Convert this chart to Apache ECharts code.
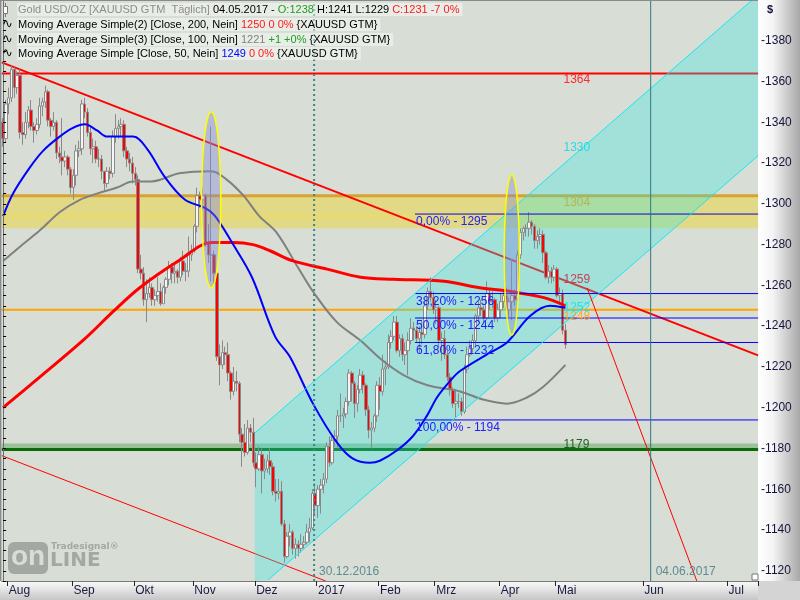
<!DOCTYPE html>
<html>
<head>
<meta charset="utf-8">
<title>Gold USD/OZ</title>
<script src="https://cdn.jsdelivr.net/npm/echarts@6.0.0/dist/echarts.min.js"></script>
<style>
  html, body { margin: 0; padding: 0; background: #fff; }
  #main { width: 800px; height: 600px; }
</style>
</head>
<body>
<div id="main"></div>
<script>
// daily candles, one array per month: [day, open, close, low, high]
const jul16 = [[28,1340,1332,1328,1342],[29,1332,1349,1330,1351]];
const aug16 = [
  [1,1349,1352,1344,1357],[2,1352,1366,1350,1368],[3,1366,1357,1352,1367],[4,1357,1363,1354,1365],[5,1363,1335,1332,1366],
  [8,1335,1334,1329,1340],[9,1334,1340,1332,1345],[10,1340,1346,1337,1348],[11,1346,1338,1336,1351],[12,1338,1336,1330,1340],
  [15,1336,1339,1334,1342],[16,1339,1348,1337,1352],[17,1348,1350,1343,1352],[18,1350,1355,1347,1358],[19,1355,1341,1338,1356],
  [22,1341,1338,1333,1342],[23,1338,1340,1336,1345],[24,1340,1325,1322,1341],[25,1325,1323,1320,1328],[26,1323,1321,1314,1342],
  [29,1321,1323,1318,1326],[30,1323,1317,1314,1324],[31,1317,1308,1305,1318]
];
const sep16 = [
  [1,1308,1314,1302,1317],[2,1314,1326,1309,1329],[5,1326,1327,1323,1331],[6,1327,1349,1324,1351],[7,1349,1345,1342,1352],
  [8,1345,1335,1333,1347],[9,1335,1327,1324,1338],[12,1327,1328,1320,1332],[13,1328,1322,1320,1331],[14,1322,1322,1318,1327],
  [15,1322,1316,1312,1324],[16,1316,1310,1306,1316],[19,1310,1316,1308,1318],[20,1316,1315,1312,1318],[21,1315,1333,1313,1336],
  [22,1333,1337,1330,1344],[23,1337,1338,1332,1341],[26,1338,1339,1333,1342],[27,1339,1326,1323,1341],[28,1326,1322,1318,1328],
  [29,1322,1320,1316,1325],[30,1320,1315,1310,1323]
];
const oct16 = [
  [3,1315,1312,1309,1318],[4,1312,1268,1266,1314],[5,1268,1266,1263,1275],[6,1266,1253,1250,1269],[7,1253,1256,1242,1263],
  [10,1256,1259,1254,1264],[11,1259,1253,1250,1261],[12,1253,1255,1250,1258],[13,1255,1257,1252,1264],[14,1257,1251,1250,1261],
  [17,1251,1259,1251,1260],[18,1259,1263,1256,1264],[19,1263,1269,1260,1272],[20,1269,1266,1261,1271],[21,1266,1267,1261,1270],
  [24,1267,1264,1261,1268],[25,1264,1272,1262,1274],[26,1272,1267,1265,1277],[27,1267,1267,1262,1271],[28,1267,1275,1264,1284],
  [31,1275,1277,1272,1280]
];
const nov16 = [
  [1,1277,1289,1276,1290],[2,1289,1304,1286,1308],[3,1304,1302,1298,1306],[4,1302,1304,1297,1308],[7,1304,1281,1279,1305],
  [8,1281,1275,1271,1290],[9,1275,1275,1262,1338],[10,1275,1266,1260,1277],[11,1266,1225,1223,1267],[14,1225,1221,1211,1231],
  [15,1221,1227,1219,1233],[16,1227,1226,1221,1230],[17,1226,1217,1213,1232],[18,1217,1208,1204,1218],[21,1208,1213,1206,1220],
  [22,1213,1212,1208,1218],[23,1212,1187,1183,1213],[24,1187,1183,1171,1190],[25,1183,1178,1176,1192],[28,1178,1190,1177,1194],
  [29,1190,1188,1183,1192],[30,1188,1173,1171,1195]
];
const dec16 = [
  [1,1173,1170,1161,1178],[2,1170,1177,1169,1181],[5,1177,1169,1158,1180],[6,1169,1170,1165,1175],[7,1170,1174,1168,1177],
  [8,1174,1171,1167,1180],[9,1171,1159,1157,1173],[12,1159,1158,1154,1165],[13,1158,1159,1155,1165],[14,1159,1143,1142,1164],
  [15,1143,1127,1124,1145],[16,1127,1137,1126,1139],[19,1137,1139,1132,1143],[20,1139,1131,1128,1140],[21,1131,1133,1126,1136],
  [22,1133,1131,1127,1135],[23,1131,1133,1129,1138],[26,1133,1134,1131,1137],[27,1134,1139,1133,1143],[28,1139,1141,1134,1146],
  [29,1141,1158,1140,1160],[30,1158,1152,1147,1163]
];
const jan17 = [
  [2,1152,1160,1146,1162],[3,1160,1162,1148,1165],[4,1162,1165,1158,1168],[5,1165,1181,1163,1183],[6,1181,1173,1171,1186],
  [9,1173,1184,1172,1186],[10,1184,1186,1181,1189],[11,1186,1196,1180,1199],[12,1196,1196,1193,1207],[13,1196,1197,1190,1200],
  [16,1197,1203,1195,1205],[17,1203,1217,1201,1219],[18,1217,1212,1203,1218],[19,1212,1202,1195,1213],[20,1202,1209,1198,1211],
  [23,1209,1216,1207,1219],[24,1216,1211,1207,1218],[25,1211,1199,1196,1212],[26,1199,1189,1185,1201],[27,1189,1190,1180,1193],
  [30,1190,1196,1188,1197],[31,1196,1211,1193,1213]
];
const feb17 = [
  [1,1211,1208,1199,1215],[2,1208,1219,1206,1226],[3,1219,1220,1211,1223],[6,1220,1232,1219,1236],[7,1232,1235,1229,1238],
  [8,1235,1242,1233,1245],[9,1242,1228,1227,1245],[10,1228,1234,1225,1236],[13,1234,1226,1223,1236],[14,1226,1228,1221,1232],
  [15,1228,1233,1216,1237],[16,1233,1239,1231,1244],[17,1239,1238,1233,1242],[20,1238,1234,1232,1240],[21,1234,1237,1227,1240],
  [22,1237,1236,1231,1243],[23,1236,1250,1234,1252],[24,1250,1257,1248,1259],[27,1257,1254,1252,1264],[28,1254,1248,1246,1257]
];
const mar17 = [
  [1,1248,1249,1241,1253],[2,1249,1233,1230,1250],[3,1233,1234,1223,1237],[6,1234,1226,1224,1238],[7,1226,1215,1213,1228],
  [8,1215,1209,1206,1217],[9,1209,1202,1200,1210],[10,1202,1203,1195,1209],[13,1203,1203,1200,1207],[14,1203,1198,1196,1205],
  [15,1198,1219,1197,1221],[16,1219,1226,1217,1230],[17,1226,1229,1225,1233],[20,1229,1233,1227,1236],[21,1233,1245,1230,1246],
  [22,1245,1249,1242,1252],[23,1249,1248,1245,1253],[24,1248,1244,1241,1250],[27,1244,1256,1243,1262],[28,1256,1252,1248,1258],
  [29,1252,1253,1249,1257],[30,1253,1244,1242,1254],[31,1244,1248,1242,1251]
];
const apr17 = [
  [3,1248,1252,1244,1256],[4,1252,1255,1249,1258],[5,1255,1248,1245,1259],[6,1248,1252,1244,1254],[7,1252,1255,1243,1273],
  [10,1255,1253,1250,1258],[11,1253,1275,1252,1277],[12,1275,1286,1273,1288],[13,1286,1288,1282,1289],[14,1288,1288,1284,1290],
  [17,1288,1291,1284,1296],[18,1291,1289,1285,1292],[19,1289,1282,1278,1290],[20,1282,1284,1278,1287],[21,1284,1285,1280,1288],
  [24,1285,1276,1271,1287],[25,1276,1264,1263,1277],[26,1264,1267,1261,1270],[27,1267,1264,1261,1269],[28,1264,1268,1262,1270]
];
const may17 = [[1,1268,1255,1254,1269],[2,1255,1256,1251,1259],[3,1256,1238,1236,1258],[4,1238,1231,1229,1241]];

// moving averages: [bar position, value]
const sma200 = [[0,1200],[13,1215],[28.4,1233],[39,1247],[48.7,1259],[62.3,1272],[74.3,1281],[81.7,1281],[88.9,1280],[94.9,1277],
  [103.1,1272],[115.2,1268],[127.1,1264],[138.8,1263],[156.9,1262],[169,1259],[180.6,1257],[192.3,1254],[200,1250]];
const sma100 = [[0,1272],[6,1279],[13.1,1287],[20.2,1296],[27.3,1302],[33.4,1305],[40.5,1308],[46.2,1311],[52.7,1311],[62.7,1315],
  [74.1,1316],[79.4,1312],[85.5,1304],[91.1,1294],[97.2,1286],[105.2,1268],[110.2,1257],[118.7,1242],[127.1,1233],[134.2,1224],
  [142.4,1216],[150.9,1211],[162.5,1208],[170.7,1204],[179.2,1202],[186.3,1205],[191.9,1210],[200,1221]];
const sma50 = [[0,1294],[3.5,1305],[9.6,1318],[14.2,1326],[19.2,1332],[24.5,1337],[29.1,1339],[33.4,1336],[37,1333],[46.2,1333],
  [51.2,1327],[57.6,1313],[64.7,1302],[71.8,1298],[75.4,1294],[81.4,1281],[88.5,1264],[96.7,1235],[102,1225],[110.2,1202],
  [118.7,1183],[124.4,1175],[130.5,1173],[134,1174],[140,1179],[145.7,1186],[150.7,1196],[154.3,1205],[158.9,1213],[162.5,1218],
  [173.1,1227],[179.2,1232],[187.4,1245],[194.5,1250],[200,1249]];

// horizontal levels
const resistance = 1364;
const yellowBand = [1288, 1304];
const yellowMid = 1294;
const orangeLevel = 1248;
const greenBand = [1180, 1182.5];
const supportLevel = 1179.5;

// fibonacci retracement
const fibStart = 146.5;
const fibPct = ['0,00%', '38,20%', '50,00%', '61,80%', '100,00%'];
const fibLevels = [1295, 1256, 1244, 1232, 1194];

// drawn lines: [[bar, price], [bar, price]]
const trendMain = [[-0.5, 1369.4], [268.5, 1225.7]];
const trendLow = [[-0.5, 1176.5], [114.7, 1115]];
const trendSteep = [[207.7, 1258.8], [246.7, 1115]];
const channelUp = [[89.5, 1187.6], [266.4, 1400]];
const channelDown = [[94.2, 1115.5], [268.5, 1323.6]];

// ellipses: [bar, price, half width in bars, half height in $]
const ellipses = [[74, 1302, 3.4, 43.2], [180.9, 1275, 2.7, 39.3]];

// vertical markers
const markerBars = [110.6, 230.3];
const markerLabels = ['30.12.2016', '04.06.2017'];

// price tags near the last bar: text and price at top of text
const tagTexts = ['1364', '1330', '1304', '1259', '1252', '1248', '1179'];
const tagPrices = [1363.8, 1330.4, 1303.5, 1265.7, 1252, 1247.6, 1184.8];
const tagBar = 199.3;

const monthNames = ['Jan','Feb','Mrz','Apr','Mai','Jun','Jul','Aug','Sep','Okt','Nov','Dez'];

// ---- build categories ----
const months = [['2016-07',jul16],['2016-08',aug16],['2016-09',sep16],['2016-10',oct16],['2016-11',nov16],['2016-12',dec16],
  ['2017-01',jan17],['2017-02',feb17],['2017-03',mar17],['2017-04',apr17],['2017-05',may17]];
const dates = [];
const ohlc = [];
months.forEach(([ym, rows]) => {
  rows.forEach(r => {
    dates.push(ym + '-' + String(r[0]).padStart(2, '0'));
    ohlc.push([r[1], r[2], r[3], r[4]]);
  });
});
// future part of the time scale uses calendar days
let d = new Date(Date.UTC(2017, 4, 5));
while (d.getTime() <= Date.UTC(2017, 6, 11)) {
  dates.push(d.toISOString().slice(0, 10));
  d.setUTCDate(d.getUTCDate() + 1);
}
const N = dates.length;
const monthStart = dates.map((s, i) => i > 0 && s.slice(5, 7) !== dates[i - 1].slice(5, 7));

const yMin = 1115, yMax = 1400;
const xMin = -0.5, xMax = N - 0.5;

const channelPoly = [[channelUp[0][0], yMin], channelUp[0], channelUp[1], [xMax, yMax], [xMax, channelDown[1][1]], channelDown[0]];

const FONT = '11px "Liberation Sans", Arial, sans-serif';

function seg(points, color, width, z, type) {
  return {
    type: 'line', xAxisIndex: 1, yAxisIndex: 0, data: points, symbol: 'none', silent: true, z: z,
    lineStyle: { color: color, width: width, type: type || 'solid' }
  };
}
function hline(v, color, width, z) {
  return seg([[xMin, v], [xMax, v]], color, width, z);
}

const series = [];

// bands
const bands = [yellowBand, greenBand];
const bandColors = ['rgba(240,210,40,0.45)', 'rgba(40,140,40,0.35)'];
series.push({
  type: 'custom', xAxisIndex: 1, yAxisIndex: 0, z: 1, silent: true,
  data: bands.map((b, i) => [i, b[0]]),
  renderItem: (params, api) => {
    const b = bands[params.dataIndex];
    const p1 = api.coord([xMin, b[1]]);
    const p2 = api.coord([xMax, b[0]]);
    return { type: 'rect', shape: { x: p1[0], y: p1[1], width: p2[0] - p1[0], height: p2[1] - p1[1] },
      style: { fill: bandColors[params.dataIndex] } };
  }
});
series.push(hline(resistance, '#ff0000', 2, 1));
series.push(hline(yellowBand[1], '#d6a330', 3, 1));
series.push(hline(yellowMid, '#f2dc50', 1.5, 1));
series.push(hline(orangeLevel, '#ffa500', 2, 1));
series.push(hline(supportLevel, '#0b6b0b', 3, 1));
series.push(seg(trendMain, '#ff0000', 2, 1));
series.push(seg(trendLow, '#ff0000', 1, 1));

// channel fill
series.push({
  type: 'custom', xAxisIndex: 1, yAxisIndex: 0, z: 2, silent: true,
  data: [[channelUp[0][0], channelUp[0][1]]],
  renderItem: (params, api) => ({
    type: 'polygon', shape: { points: channelPoly.map(p => api.coord(p)) },
    style: { fill: 'rgba(32,232,232,0.3)' }
  })
});

// candles
series.push({
  type: 'candlestick', xAxisIndex: 0, yAxisIndex: 0, z: 3, data: ohlc, barWidth: 3,
  itemStyle: { color: '#f6f6f6', color0: '#ff0000', borderColor: '#8a8a8a', borderColor0: '#8a8a8a', borderWidth: 1 }
});

// moving averages
series.push({ type: 'line', xAxisIndex: 1, yAxisIndex: 0, z: 4, data: sma100, smooth: 0.35, symbol: 'none', silent: true,
  lineStyle: { color: '#808080', width: 2 } });
series.push({ type: 'line', xAxisIndex: 1, yAxisIndex: 0, z: 4, data: sma200, smooth: 0.35, symbol: 'none', silent: true,
  lineStyle: { color: '#ff0000', width: 3 } });
series.push({ type: 'line', xAxisIndex: 1, yAxisIndex: 0, z: 4, data: sma50, smooth: 0.35, symbol: 'none', silent: true,
  lineStyle: { color: '#0000ff', width: 2 } });

// fib lines
fibLevels.forEach(v => series.push(seg([[fibStart, v], [xMax, v]], '#0000ff', 1, 4)));
// channel edges, steep line
series.push(seg(channelUp, '#18e6f2', 1, 4));
series.push(seg(channelDown, '#18e6f2', 1, 4));
series.push(seg(trendSteep, '#ff0000', 1, 4));
// vertical markers
series.push(seg([[markerBars[0], yMin], [markerBars[0], yMax]], '#3c8888', 2, 4, [2, 3]));
series.push(seg([[markerBars[1], yMin], [markerBars[1], yMax]], '#2f7a80', 1, 4));

// ellipses
series.push({
  type: 'custom', xAxisIndex: 1, yAxisIndex: 0, z: 5, silent: true,
  data: ellipses.map(e => [e[0], e[1]]),
  renderItem: (params, api) => {
    const e = ellipses[params.dataIndex];
    const c = api.coord([e[0], e[1]]);
    const rx = api.size([e[2], 0])[0];
    const ry = api.size([0, e[3]])[1];
    const pts = [];
    for (let k = 0; k < 64; k++) {
      const a = k / 64 * Math.PI * 2;
      pts.push([c[0] + rx * Math.cos(a), c[1] + ry * Math.sin(a)]);
    }
    return { type: 'polygon', shape: { points: pts },
      style: { fill: 'rgba(130,135,215,0.4)', stroke: '#ffff00', lineWidth: 1.5 } };
  }
});

// text labels drawn at data positions
const tagColors = ['#ff2a2a', '#22dde8', '#b8b454', '#c8405a', '#22e4e4', '#ffa62a', '#1f5f1f'];
const labelItems = [];
fibLevels.forEach((v, i) => labelItems.push({ at: [fibStart, v], dx: 1, dy: 2, text: fibPct[i] + ' - ' + v, color: '#2020ff' }));
tagTexts.forEach((t, i) => labelItems.push({ at: [tagBar, tagPrices[i]], dx: 0, dy: 0, text: t, color: tagColors[i] }));
markerBars.forEach((b, i) => labelItems.push({ at: [b, yMin], dx: 5, dy: -15, text: markerLabels[i], color: '#5f8a94' }));
series.push({
  type: 'custom', xAxisIndex: 1, yAxisIndex: 0, z: 6, silent: true,
  data: labelItems.map(l => l.at),
  renderItem: (params, api) => {
    const l = labelItems[params.dataIndex];
    const p = api.coord(l.at);
    return { type: 'text', x: p[0] + l.dx, y: p[1] + l.dy,
      style: { text: l.text, fill: l.color, font: '12px "Liberation Sans", Arial, sans-serif' } };
  }
});

// ---- header legend ----
const lastBar = ohlc[ohlc.length - 1];
const prevClose = ohlc[ohlc.length - 2][1];
const lastDate = dates[ohlc.length - 1];
const dateTxt = lastDate.slice(8, 10) + '.' + lastDate.slice(5, 7) + '.' + lastDate.slice(0, 4);
const chg = lastBar[1] - prevClose;
const pct = Math.trunc(chg / prevClose * 100);
const rs = c => ({ fill: c, font: FONT });
const rich = { g: rs('#8c8c8c'), k: rs('#000000'), gr: rs('#1e9e1e'), r: rs('#ff1a1a'), gy: rs('#808080'), b: rs('#0000ff') };
const ma200Last = sma200[sma200.length - 1][1];
const ma100Last = sma100[sma100.length - 1][1];
const ma50Last = sma50[sma50.length - 1][1];
const headerRows = [
  '{g|Gold USD/OZ [XAUUSD GTM  T\u00e4glich] }{k|' + dateTxt + ' - }{gr|O:' + lastBar[0] + '}{k| H:' + lastBar[3] +
    ' L:' + lastBar[2] + ' }{r|C:' + lastBar[1] + ' ' + chg + ' ' + pct + '%}',
  '{k|Moving Average Simple(2) [Close, 200, Nein] }{r|' + ma200Last + ' 0 0%} {XAUUSD GTM}',
  '{k|Moving Average Simple(3) [Close, 100, Nein] }{gy|' + ma100Last + '}{gr| +1 +0%} {XAUUSD GTM}',
  '{k|Moving Average Simple [Close, 50, Nein] }{b|' + ma50Last + '}{r| 0 0%} {XAUUSD GTM}'
];
const rowTops = [3, 18, 33, 47];

const graphics = [
  { type: 'rect', shape: { x: 758, y: 0, width: 42, height: 581 },
    style: { fill: new echarts.graphic.LinearGradient(0, 0, 1, 0, [
      { offset: 0, color: '#ffffff' }, { offset: 0.35, color: '#f4f4f4' }, { offset: 1, color: '#a8a8a8' }]) } },
  { type: 'rect', shape: { x: 0, y: 581, width: 758, height: 19 },
    style: { fill: new echarts.graphic.LinearGradient(0, 0, 0, 1, [
      { offset: 0, color: '#fbfbfb' }, { offset: 1, color: '#c6c6c6' }]) } },
  { type: 'rect', shape: { x: 758, y: 581, width: 42, height: 19 }, style: { fill: '#d4d4d4' } },
  { type: 'line', shape: { x1: 0.5, y1: 0, x2: 0.5, y2: 581 }, style: { stroke: '#8a8a8a', lineWidth: 2 }, z: 20 },
  { type: 'line', shape: { x1: 0, y1: 0.5, x2: 758, y2: 0.5 }, style: { stroke: '#8a8a8a', lineWidth: 1 }, z: 20 },
  { type: 'rect', shape: { x: 752, y: 574, width: 6, height: 6 }, style: { fill: '#ffffff', stroke: '#777', lineWidth: 1 }, z: 20 },
  { type: 'text', x: 767, y: 4, style: { text: '$', fill: '#14143c', font: 'bold 11px "Liberation Sans", Arial, sans-serif' }, z: 20 },
  // watermark
  { type: 'rect', shape: { x: 8, y: 542, width: 40, height: 32, r: 6 }, style: { fill: '#a3a9a2' }, z: 5 },
  { type: 'text', x: 11, y: 543, style: { text: 'on', fill: '#d8ded5', font: 'bold 28px "Liberation Sans", Arial, sans-serif' }, z: 5 },
  { type: 'text', x: 50, y: 551, style: { text: 'LINE', fill: '#a3a9a2', font: 'bold 20px "DejaVu Sans", sans-serif' }, z: 5 },
  { type: 'text', x: 51, y: 542, style: { text: 'Tradesignal\u00ae', fill: '#a3a9a2', font: 'bold 9px "DejaVu Sans", sans-serif' }, z: 5 },
  // row icon for the price series
  { type: 'line', shape: { x1: 5.5, y1: 3, x2: 5.5, y2: 17 }, style: { stroke: '#777', lineWidth: 1 }, z: 100 },
  { type: 'rect', shape: { x: 3.5, y: 6.5, width: 4, height: 7 }, style: { fill: '#fff', stroke: '#777', lineWidth: 1 }, z: 100 }
];
headerRows.forEach((t, i) => {
  graphics.push({ type: 'text', x: 17, y: rowTops[i], z: 100,
    style: { text: t, rich: rich, fill: '#000', font: FONT, backgroundColor: 'rgba(255,255,255,0.45)', padding: [1, 3, 1, 1] } });
  if (i > 0) {
    graphics.push({ type: 'text', x: 2, y: rowTops[i], z: 100,
      style: { text: '\u223f', fill: '#000', font: '13px "DejaVu Sans", sans-serif' } });
  }
});

const chart = echarts.init(document.getElementById('main'), null, { renderer: 'canvas' });
chart.setOption({
  animation: false,
  backgroundColor: '#ffffff',
  grid: { left: 1.7, right: 41.9, top: 0, bottom: 19, show: true, backgroundColor: '#d8ded5', borderWidth: 0,
    containLabel: false, outerBoundsMode: 'none' },
  xAxis: [
    {
      type: 'category', data: dates, boundaryGap: true, z: 10,
      axisLine: { show: true, lineStyle: { color: '#7a7a7a', width: 1 } },
      axisTick: { show: true, length: 5, interval: (i) => monthStart[i], lineStyle: { color: '#222' } },
      axisLabel: {
        interval: (i) => monthStart[i],
        align: 'left', margin: 4, color: '#1a1a40', fontSize: 12, fontFamily: '"Liberation Sans", Arial, sans-serif',
        formatter: (v) => { const m = +v.slice(5, 7); return m === 1 ? v.slice(0, 4) : monthNames[m - 1]; }
      },
      splitLine: { show: false }
    },
    { type: 'value', min: xMin, max: xMax, show: false, splitLine: { show: false } }
  ],
  yAxis: {
    type: 'value', position: 'right', min: yMin, max: yMax, interval: 5, z: 10,
    splitLine: { show: false },
    axisLine: { show: true, lineStyle: { color: '#6e6e6e' } },
    axisTick: { show: true, length: 3, lineStyle: { color: '#000' } },
    axisLabel: { margin: 3, color: '#14143c', fontSize: 12, fontFamily: '"Liberation Sans", Arial, sans-serif',
      formatter: (v) => (v % 20 === 0 && v < yMax ? '-' + v : '') }
  },
  series: series,
  graphic: { elements: graphics }
});
</script>
</body>
</html>
